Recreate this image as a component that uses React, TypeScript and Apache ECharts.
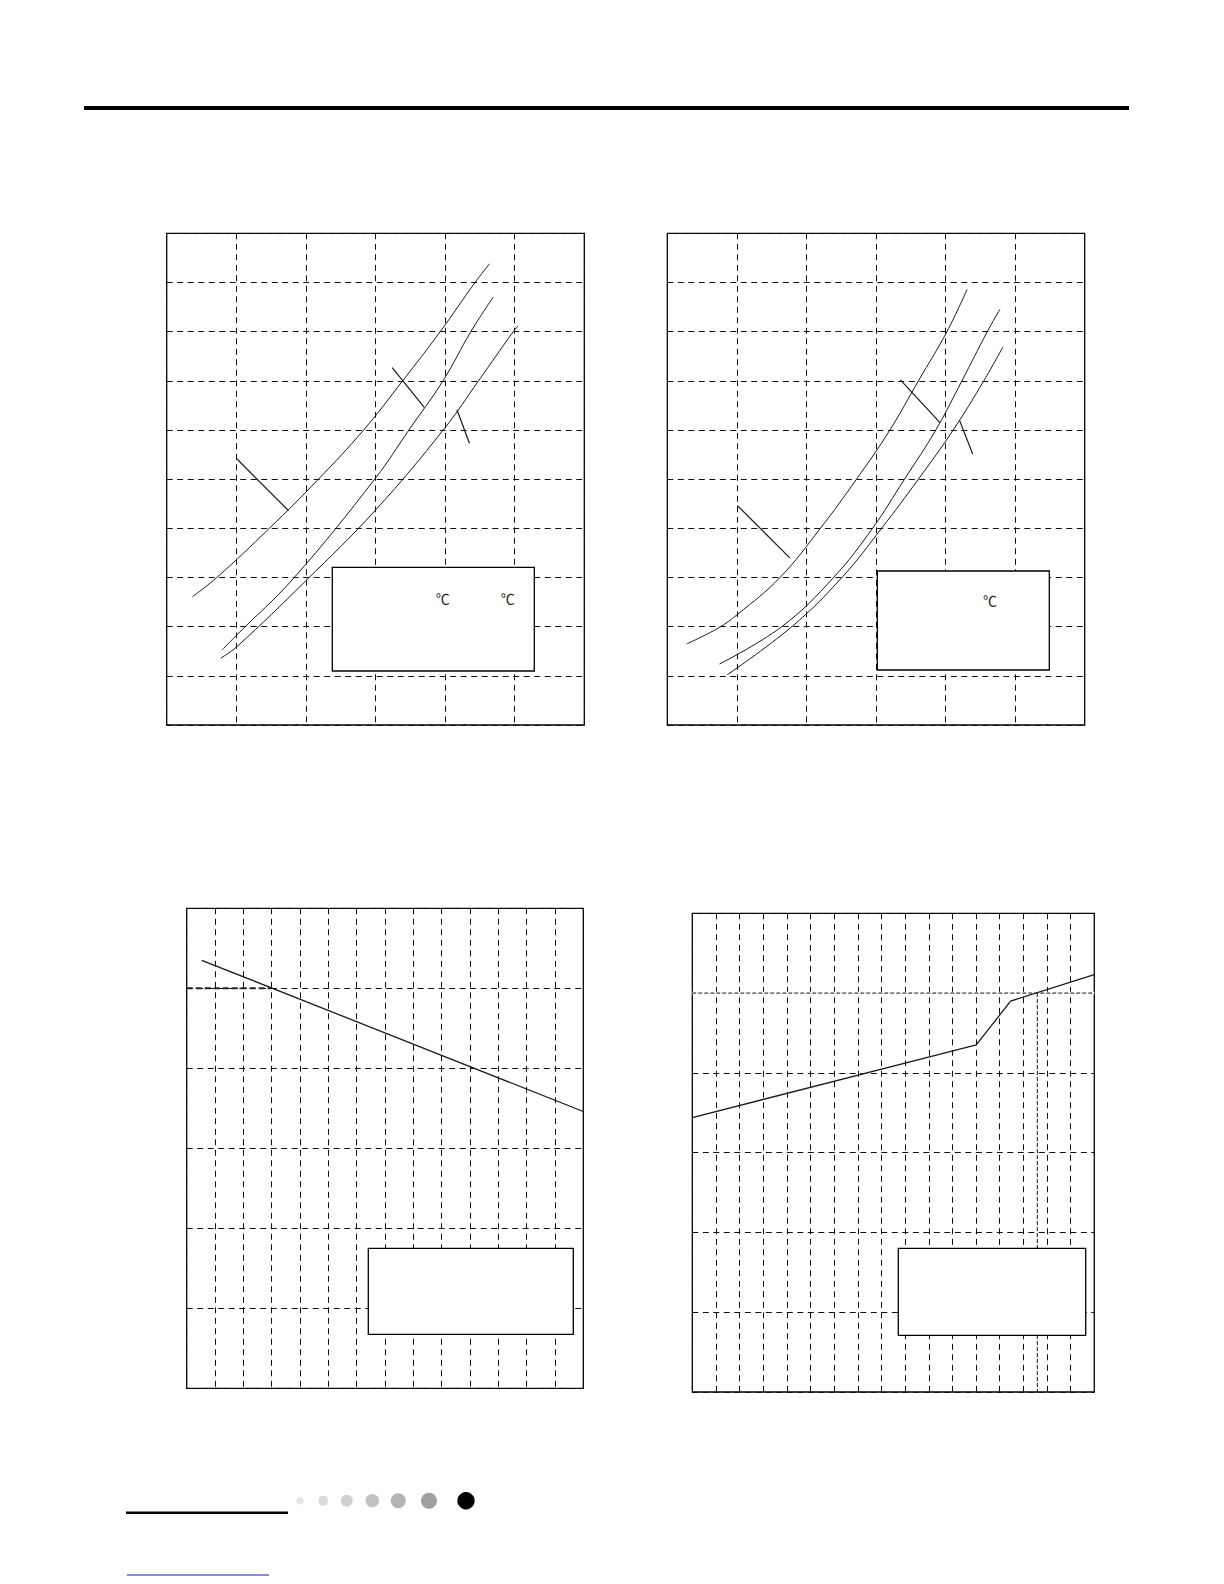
import React, { useEffect, useRef } from "react";
import * as echarts from "echarts";

// ---- Chart 1 (top-left): three curves, abstract units x 0..6, y 0..10
const c1CurveA: [number, number][] = [[0.37, 2.61], [0.72, 3.0], [1.475, 4.0], [2.18, 5.0], [2.83, 6.0], [3.39, 7.0], [3.93, 8.0], [4.43, 9.0], [4.64, 9.38]];
const c1CurveB: [number, number][] = [[0.795, 1.525], [1.006, 1.83], [1.82, 2.98], [3.0, 5.02], [3.48, 6.0], [3.97, 7.0], [4.37, 8.0], [4.69, 8.70]];
const c1CurveC: [number, number][] = [[0.776, 1.36], [1.006, 1.59], [1.99, 2.92], [3.0, 4.37], [3.99, 6.03], [4.48, 7.0], [4.98, 8.0], [5.05, 8.12]];
const c1Leaders: [number, number][][] = [
  [[1.01, 5.41], [1.75, 4.36]],
  [[3.24, 7.27], [3.70, 6.46]],
  [[4.17, 6.41], [4.35, 5.73]],
];

// ---- Chart 2 (top-right)
const c2CurveA: [number, number][] = [[0.28, 1.65], [0.73, 1.97], [1.01, 2.25], [1.62, 3.0], [2.20, 4.0], [2.72, 5.0], [3.20, 6.0], [3.61, 7.0], [4.02, 8.0], [4.31, 8.86]];
const c2CurveB: [number, number][] = [[0.75, 1.24], [1.645, 2.0], [2.39, 3.0], [2.95, 4.0], [3.41, 5.0], [3.86, 6.0], [4.235, 7.0], [4.60, 8.0], [4.78, 8.45]];
const c2CurveC: [number, number][] = [[0.86, 1.02], [1.79, 2.0], [2.51, 3.0], [3.08, 4.0], [3.61, 5.0], [4.11, 6.0], [4.55, 7.0], [4.825, 7.69]];
const c2Leaders: [number, number][][] = [
  [[1.01, 4.46], [1.76, 3.40]],
  [[3.35, 7.02], [3.92, 6.15]],
  [[4.20, 6.20], [4.39, 5.51]],
];

// ---- Chart 3 (bottom-left): x 0..14, y 0..6
const c3Line: [number, number][] = [[0.53, 5.35], [14, 3.46]];
const c3RefLine: [number, number][] = [[0, 5], [3, 5]];

// ---- Chart 4 (bottom-right): x 0..17, y 0..6
const c4Line: [number, number][] = [[0, 3.44], [12.01, 4.35], [13.46, 4.90], [17, 5.23]];
const c4RefH: [number, number][] = [[0, 5], [17, 5]];
const c4RefV: [number, number][] = [[14.59, 5], [14.59, 0]];

// axis ranges
const axisRanges = [
  { xMax: 6, yMax: 10 },
  { xMax: 6, yMax: 10 },
  { xMax: 14, yMax: 6 },
  { xMax: 17, yMax: 6 },
];

const INK = "#1a1a1a";

export default function App() {
  const ref = useRef<HTMLDivElement>(null);
  useEffect(() => {
    if (!ref.current) return;
    const chart = echarts.init(ref.current, undefined, { renderer: "svg" });

    const grids = [
      { left: 166.7, top: 233.3, width: 417.6, height: 491.7 },
      { left: 667.3, top: 233.3, width: 417.4, height: 491.7 },
      { left: 186.7, top: 908.3, width: 396.6, height: 480 },
      { left: 692.3, top: 913.3, width: 402, height: 478.7 },
    ].map((g) => ({ ...g, show: true, borderColor: "#000", borderWidth: 1.3, backgroundColor: "transparent", containLabel: false }));

    const splitStyle = { show: true, lineStyle: { color: "#111", width: 1, type: [6, 4.5] as any } };
    const xAxes = axisRanges.map((r, i) => ({
      type: "value", gridIndex: i, min: 0, max: r.xMax, interval: 1,
      axisLine: { show: false }, axisTick: { show: false }, axisLabel: { show: false },
      splitLine: splitStyle,
    }));
    const yAxes = axisRanges.map((r, i) => ({
      type: "value", gridIndex: i, min: 0, max: r.yMax, interval: 1,
      axisLine: { show: false }, axisTick: { show: false }, axisLabel: { show: false },
      splitLine: splitStyle,
    }));

    const line = (data: [number, number][], idx: number, opts: any = {}) => ({
      type: "line", xAxisIndex: idx, yAxisIndex: idx, data,
      showSymbol: false, symbol: "none", silent: true,
      smooth: opts.smooth ?? false,
      lineStyle: { color: opts.color ?? INK, width: opts.width ?? 1, type: opts.type ?? "solid" },
      z: opts.z ?? 3,
    });

    const series: any[] = [
      line(c1CurveA, 0, { smooth: 0.4 }),
      line(c1CurveB, 0, { smooth: 0.4 }),
      line(c1CurveC, 0, { smooth: 0.4 }),
      ...c1Leaders.map((l) => line(l, 0, { width: 1.2 })),
      line(c2CurveA, 1, { smooth: 0.4 }),
      line(c2CurveB, 1, { smooth: 0.4 }),
      line(c2CurveC, 1, { smooth: 0.4 }),
      ...c2Leaders.map((l) => line(l, 1, { width: 1.2 })),
      line(c3RefLine, 2, { width: 2, type: [6, 3], color: "#222" }),
      line(c3Line, 2, { width: 1.3 }),
      line(c4RefH, 3, { width: 2.5, color: "#fff", z: 2 }),
      line(c4RefH, 3, { width: 1, type: [4, 2], color: "#111" }),
      line(c4RefV, 3, { width: 1, type: [4, 2], color: "#111" }),
      line(c4Line, 3, { width: 1.3 }),
    ];

    const box = (x: number, y: number, w: number, h: number) => ({
      type: "rect", z: 100, silent: true,
      shape: { x, y, width: w, height: h },
      style: { fill: "#fff", stroke: "#000", lineWidth: 1.3 },
    });
    const degC = (x: number, y: number) => ({
      type: "text", z: 101, silent: true, x, y,
      style: { text: "℃", fontSize: 14, fontFamily: "Noto Sans CJK SC", fill: "#222", align: "center", verticalAlign: "middle" },
    });
    const dots = [
      { x: 300, r: 3.7, c: "#e6e6e6" },
      { x: 323.3, r: 5, c: "#dadada" },
      { x: 346.7, r: 6, c: "#cfcfcf" },
      { x: 372.3, r: 6.7, c: "#c2c2c2" },
      { x: 398.3, r: 7.5, c: "#b4b4b4" },
      { x: 429, r: 8, c: "#a0a0a0" },
      { x: 466, r: 8.7, c: "#000" },
    ];

    const graphic: any[] = [
      { type: "rect", silent: true, shape: { x: 84, y: 106, width: 1045, height: 4 }, style: { fill: "#000" } },
      { type: "rect", silent: true, shape: { x: 126, y: 1511.5, width: 162, height: 2.6 }, style: { fill: "#000" } },
      ...dots.map((d) => ({ type: "circle", silent: true, shape: { cx: d.x, cy: 1500.7, r: d.r }, style: { fill: d.c } })),
      { type: "line", silent: true, shape: { x1: 127, y1: 1575, x2: 269, y2: 1575 }, style: { stroke: "#1c1c8f", lineWidth: 1.2 } },
      box(332.3, 567.3, 202, 103.7),
      box(877.3, 571, 172, 99),
      box(368.3, 1248.3, 205, 86),
      box(898.3, 1248.3, 187.4, 87),
      degC(442.7, 598),
      degC(507.7, 598),
      degC(990, 600),
    ];

    chart.setOption({
      animation: false,
      backgroundColor: "#fff",
      grid: grids,
      xAxis: xAxes,
      yAxis: yAxes,
      series,
      graphic,
    });
    return () => chart.dispose();
  }, []);

  return <div ref={ref} style={{ position: "absolute", left: 0, top: 0, width: 1224, height: 1584 }} />;
}
